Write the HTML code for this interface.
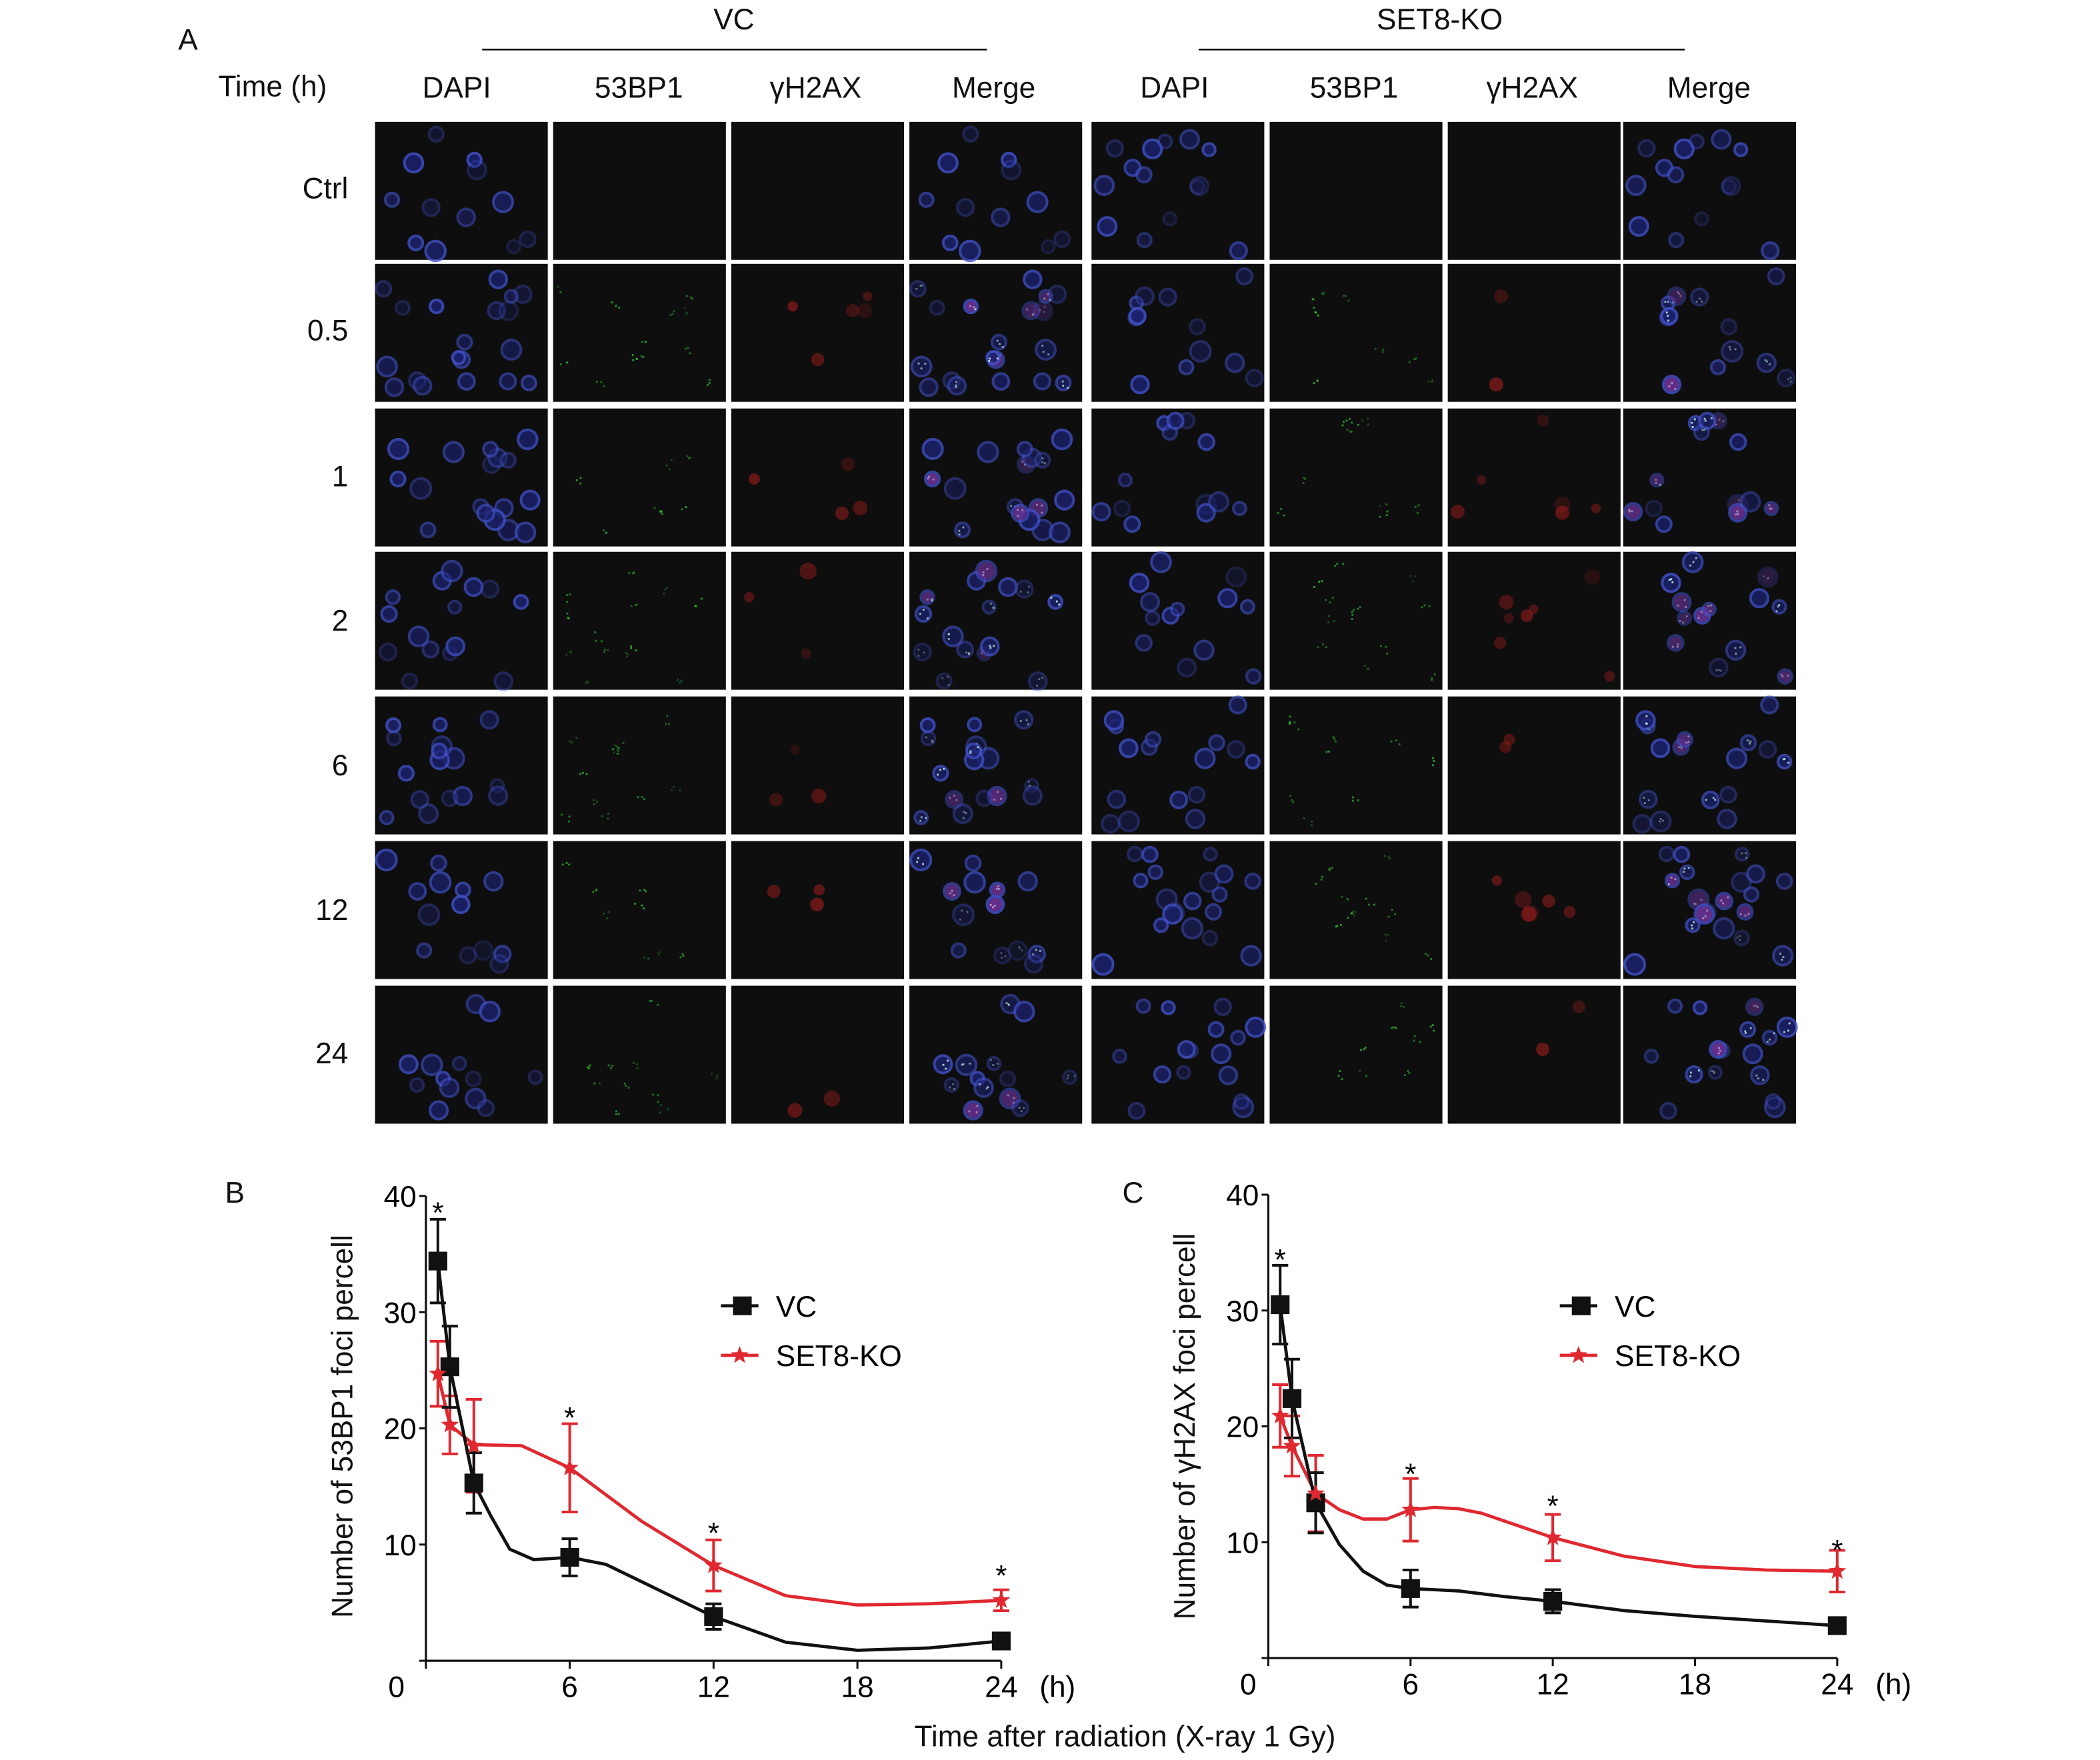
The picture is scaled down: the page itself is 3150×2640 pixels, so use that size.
<!DOCTYPE html>
<html><head><meta charset="utf-8"><style>
html,body{margin:0;padding:0;background:#fff;}
svg{display:block;font-family:"Liberation Sans",sans-serif;}
</style></head><body>
<svg id="s" width="3150" height="2640" viewBox="0 0 1568 1314.1" xmlns="http://www.w3.org/2000/svg">
<rect width="1600" height="1340" fill="#fff"/>
<g font-size="22" fill="#111">
<text x="133" y="37">A</text>
<text x="548" y="22" text-anchor="middle">VC</text>
<text x="1075" y="22" text-anchor="middle">SET8-KO</text>
<text x="163" y="72">Time (h)</text>
<text x="341" y="73" text-anchor="middle">DAPI</text>
<text x="477" y="73" text-anchor="middle">53BP1</text>
<text x="609" y="73" text-anchor="middle">γH2AX</text>
<text x="742" y="73" text-anchor="middle">Merge</text>
<text x="877" y="73" text-anchor="middle">DAPI</text>
<text x="1011" y="73" text-anchor="middle">53BP1</text>
<text x="1144" y="73" text-anchor="middle">γH2AX</text>
<text x="1276" y="73" text-anchor="middle">Merge</text>
<text x="260" y="148" text-anchor="end">Ctrl</text>
<text x="260" y="254" text-anchor="end">0.5</text>
<text x="260" y="363" text-anchor="end">1</text>
<text x="260" y="471" text-anchor="end">2</text>
<text x="260" y="579" text-anchor="end">6</text>
<text x="260" y="687" text-anchor="end">12</text>
<text x="260" y="794" text-anchor="end">24</text>
</g>
<line x1="360" y1="37" x2="737" y2="37" stroke="#111" stroke-width="1.3"/>
<line x1="895" y1="37" x2="1258" y2="37" stroke="#111" stroke-width="1.3"/>
<g id="panels"></g>
<g id="charts"></g>
<g font-size="22" fill="#111">
<text x="168" y="898">B</text>
<text x="838" y="898">C</text>
<text x="840" y="1304" text-anchor="middle">Time after radiation  (X-ray 1 Gy)</text>
<text transform="translate(263,1065) rotate(-90)" text-anchor="middle">Number of 53BP1 foci percell</text>
<text transform="translate(892,1065) rotate(-90)" text-anchor="middle">Number of γH2AX foci percell</text>
</g>
</svg>
<script>
var seed=12345;function rnd(){seed=(seed*16807)%2147483647;return seed/2147483647;}
var colsX=[280,413,546,679,815,948,1081,1212],rowsY=[91,197,305,412,520,628,736];
var h='';
for(var r=0;r<7;r++){
 for(var g=0;g<2;g++){
  var cells=[];var n=12+Math.floor(rnd()*8);
  for(var k=0;k<n;k++)cells.push([6+rnd()*117,6+rnd()*92,4.5+rnd()*3,0.25+rnd()*0.6,rnd()]);
  for(var c=0;c<4;c++){
   var x0=colsX[g*4+c],y0=rowsY[r];
   h+='<rect x="'+x0+'" y="'+y0+'" width="129" height="103" fill="#0e0e0e"/>';
   cells.forEach(function(e){
    var cx=x0+e[0],cy=y0+e[1];
    if(c==0||c==3){h+='<circle cx="'+cx+'" cy="'+cy+'" r="'+e[2]+'" fill="#1c2270" stroke="#4050c8" stroke-width="2" opacity="'+e[3]+'"/>';}
    if(r>0&&(c==1||c==3)&&e[4]>0.35){for(var q=0;q<3;q++)h+='<rect x="'+(cx-4+rnd()*7)+'" y="'+(cy-4+rnd()*7)+'" width="1.4" height="1.4" fill="'+(c==1?'#3b3':'#cfe')+'" opacity="'+e[3]+'"/>';}
    if(r>0&&(c==2||c==3)&&e[4]>0.8){h+='<circle cx="'+cx+'" cy="'+cy+'" r="'+(e[2]-1)+'" fill="'+(c==2?'#c02020':'#b040b0')+'" opacity="'+(e[3]*0.6)+'"/>';}
   });
  }
 }
}
document.getElementById('panels').innerHTML=h;

function chart(ox,oy0,sx,sy,vc,s8,evc,es8,ast,zoff){
 var X=function(t){return ox+t*sx},Y=function(v){return oy0-v*sy};
 var o='';var top=Y(40);
 o+='<line x1="'+ox+'" y1="'+(top)+'" x2="'+ox+'" y2="'+oy0+'" stroke="#111" stroke-width="1.6"/>';
 o+='<line x1="'+ox+'" y1="'+oy0+'" x2="'+X(24)+'" y2="'+oy0+'" stroke="#111" stroke-width="1.6"/>';
 [0,10,20,30,40].forEach(function(v){o+='<line x1="'+(ox-5)+'" y1="'+Y(v)+'" x2="'+ox+'" y2="'+Y(v)+'" stroke="#111" stroke-width="1.5"/>';if(v>0)o+='<text x="'+(ox-7)+'" y="'+(Y(v)+8)+'" text-anchor="end" font-size="22">'+v+'</text>';});
 [0,6,12,18,24].forEach(function(t){o+='<line x1="'+X(t)+'" y1="'+oy0+'" x2="'+X(t)+'" y2="'+(oy0+6)+'" stroke="#111" stroke-width="1.5"/>';o+='<text x="'+(t==0?X(t)-zoff:X(t))+'" y="'+(oy0+27)+'" text-anchor="middle" font-size="22">'+t+'</text>';});
 o+='<text x="'+(X(24)+42)+'" y="'+(oy0+27)+'" text-anchor="middle" font-size="22">(h)</text>';
 function pl(p,col){return '<polyline fill="none" stroke="'+col+'" stroke-width="2.4" stroke-linejoin="round" points="'+p.map(function(a){return X(a[0])+','+Y(a[1])}).join(' ')+'"/>';}
 function eb(e,col){var s='';e.forEach(function(a){var x=X(a[0]);s+='<line x1="'+x+'" y1="'+Y(a[1]-a[2])+'" x2="'+x+'" y2="'+Y(a[1]+a[2])+'" stroke="'+col+'" stroke-width="2"/>';[a[1]-a[2],a[1]+a[2]].forEach(function(v){s+='<line x1="'+(x-6)+'" y1="'+Y(v)+'" x2="'+(x+6)+'" y2="'+Y(v)+'" stroke="'+col+'" stroke-width="2"/>';});});return s;}
 function star(x,y,r,col){var p=[];for(var i=0;i<10;i++){var a=-Math.PI/2+i*Math.PI/5,rr=i%2?r*0.42:r;p.push((x+rr*Math.cos(a)).toFixed(1)+','+(y+rr*Math.sin(a)).toFixed(1));}return '<polygon points="'+p.join(' ')+'" fill="'+col+'"/>';}
 o+=eb(es8,'#e02830')+pl(s8,'#e02830');
 o+=eb(evc,'#111')+pl(vc,'#111');
 evc.concat([[24,vc[vc.length-1][1]]]).forEach(function(a){o+='<rect x="'+(X(a[0])-7)+'" y="'+(Y(a[1])-7)+'" width="14" height="14" fill="#111"/>';});
 es8.forEach(function(a){o+=star(X(a[0]),Y(a[1]),7,'#e02830');});
 ast.forEach(function(a){o+='<text x="'+X(a[0])+'" y="'+a[1]+'" text-anchor="middle" font-size="22">*</text>';});
 var lx=X(13.2);
 o+='<line x1="'+(lx-16)+'" y1="975" x2="'+(lx+12)+'" y2="975" stroke="#111" stroke-width="2.4"/><rect x="'+(lx-7)+'" y="968" width="14" height="14" fill="#111"/><text x="'+(lx+25)+'" y="983" font-size="22">VC</text>';
 o+='<line x1="'+(lx-16)+'" y1="1012" x2="'+(lx+12)+'" y2="1012" stroke="#e02830" stroke-width="2.4"/>'+star(lx-2,1012,7,'#e02830')+'<text x="'+(lx+25)+'" y="1020" font-size="22">SET8-KO</text>';
 return o;
}
var c='';
c+=chart(318,1240,17.9,8.675,
 [[0.5,34.4],[1,25.3],[2,15.3],[2.7,12.5],[3.5,9.6],[4.5,8.7],[6,8.9],[7.5,8.3],[9,6.8],[12,3.8],[15,1.6],[18,0.9],[21,1.1],[24,1.7]],
 [[0.5,24.7],[1,20.3],[2,18.6],[4,18.5],[6,16.6],[9,12],[12,8.2],[15,5.6],[18,4.8],[21,4.9],[24,5.2]],
 [[0.5,34.4,3.6],[1,25.3,3.5],[2,15.3,2.6],[6,8.9,1.6],[12,3.8,1.1]],
 [[0.5,24.7,2.8],[1,20.3,2.5],[2,18.5,4],[6,16.6,3.8],[12,8.2,2.2],[24,5.2,0.9]],
 [[0.5,913],[6,1066],[12,1152],[24,1184]],22);
c+=chart(947,1238,17.7,8.65,
 [[0.5,30.5],[1,22.4],[2,13.4],[3,9.8],[4,7.5],[5,6.3],[6,6.0],[8,5.8],[10,5.3],[12,4.9],[15,4.1],[18,3.6],[21,3.2],[24,2.8]],
 [[0.5,20.9],[1,18.3],[2,14.2],[3,12.8],[4,12.0],[5,12.0],[6,12.8],[7,13],[8,12.9],[9,12.5],[12,10.4],[15,8.8],[18,7.9],[21,7.6],[24,7.5]],
 [[0.5,30.5,3.4],[1,22.4,3.4],[2,13.4,2.6],[6,6,1.6],[12,4.9,1]],
 [[0.5,20.9,2.7],[1,18.3,2.6],[2,14.2,3.3],[6,12.8,2.7],[12,10.4,2],[24,7.5,1.8]],
 [[0.5,948],[6,1108],[12,1132],[24,1165]],15);
document.getElementById('charts').innerHTML=c;
</script>
</body></html>
